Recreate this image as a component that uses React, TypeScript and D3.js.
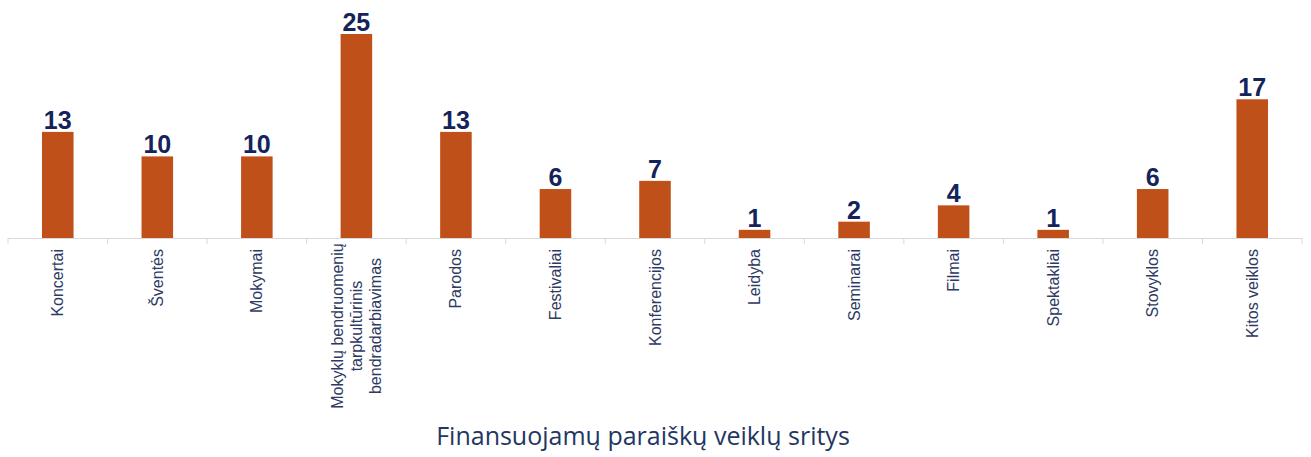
import React from "react";
import * as d3 from "d3";

const categories: string[][] = [
  ["Koncertai"],
  ["Šventės"],
  ["Mokymai"],
  ["Mokyklų bendruomenių", "tarpkultūrinis", "bendradarbiavimas"],
  ["Parodos"],
  ["Festivaliai"],
  ["Konferencijos"],
  ["Leidyba"],
  ["Seminarai"],
  ["Filmai"],
  ["Spektakliai"],
  ["Stovyklos"],
  ["Kitos veiklos"],
];
const values: number[] = [13, 10, 10, 25, 13, 6, 7, 1, 2, 4, 1, 6, 17];
const axisTitle = "Finansuojamų paraiškų veiklų sritys";

const W = 1311;
const H = 457;
const left = 8;
const right = 1302;
const baseY = 238;
const pxPerUnit = 8.16;

export default function App() {
  const idx = values.map((_, i) => String(i));
  const x = d3.scaleBand<string>().domain(idx).range([left, right]).paddingInner(0.683).paddingOuter(0.3415);
  const band = d3.scaleBand<string>().domain(idx).range([left, right]).padding(0);
  const y = d3.scaleLinear().domain([0, 25]).range([baseY, baseY - 25 * pxPerUnit]);
  const barColor = "#C0501A";
  const labelColor = "#14245A";
  const catColor = "#2E3A63";
  const catFont = 16;
  return (
    <svg width={W} height={H} style={{ position: "absolute", left: 0, top: 0, background: "#fff" }}>
      {values.map((v, i) => (
        <rect key={"b" + i} x={x(String(i))!} y={y(v)} width={x.bandwidth()} height={y(0) - y(v)} fill={barColor} />
      ))}
      <line x1={left} x2={right} y1={baseY + 0.5} y2={baseY + 0.5} stroke="#D9D9D9" strokeWidth={1} />
      {d3.range(values.length + 1).map((i) => {
        const tx = i < values.length ? band(String(i))! : right;
        return <line key={"t" + i} x1={tx} x2={tx} y1={baseY} y2={baseY + 6} stroke="#D9D9D9" strokeWidth={1} />;
      })}
      {values.map((v, i) => (
        <text
          key={"v" + i}
          x={x(String(i))! + x.bandwidth() / 2}
          y={y(v) - 3}
          textAnchor="middle"
          fontFamily="Liberation Sans, Arial, sans-serif"
          fontWeight="bold"
          fontSize={25}
          fill={labelColor}
        >
          {v}
        </text>
      ))}
      {categories.map((lines, i) => {
        const cx = band(String(i))! + band.bandwidth() / 2;
        const n = lines.length;
        const lh = 19;
        return (
          <g key={"c" + i} transform={`translate(${cx},249) rotate(-90)`}>
            {lines.map((ln, j) => (
              <text
                key={j}
                x={n > 1 ? -77 : 0}
                y={(j - (n - 1) / 2) * lh + 5.5}
                textAnchor={n > 1 ? "middle" : "end"}
                fontFamily="Liberation Sans, Arial, sans-serif"
                fontSize={catFont}
                fill={catColor}
              >
                {ln}
              </text>
            ))}
          </g>
        );
      })}
      <text x={643} y={445} textAnchor="middle" fontFamily="Open Sans, sans-serif" fontSize={25} fill="#1F3763">
        {axisTitle}
      </text>
    </svg>
  );
}
